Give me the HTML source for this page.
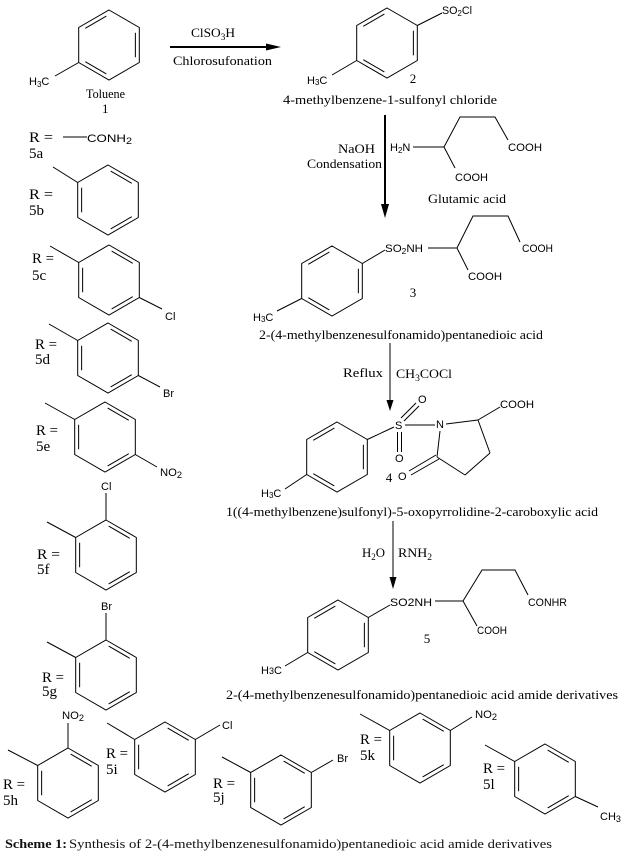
<!DOCTYPE html>
<html>
<head>
<meta charset="utf-8">
<style>
html,body{margin:0;padding:0;background:#fff;}
svg{display:block;}
.l{stroke:#000;stroke-width:1;fill:none;}
.a{stroke:#000;fill:none;}
.s{font-family:"Liberation Sans",sans-serif;font-size:11px;fill:#000;}
.t{font-family:"Liberation Serif",serif;font-size:13px;fill:#000;}
.r{font-family:"Liberation Serif",serif;font-size:15px;fill:#000;}
.c{font-family:"Liberation Serif",serif;font-size:13px;fill:#111;}
</style>
</head>
<body>
<svg width="624" height="864" viewBox="0 0 624 864" xmlns="http://www.w3.org/2000/svg">

<!-- ===== Ring pattern A (main compounds) ===== -->
<g class="l" transform="translate(109,45)"><path d="M0,-35 L30.31,-17.5 L30.31,17.5 L0,35 L-30.31,17.5 L-30.31,-17.5 Z M-23.73,-16.74 L-2.64,-28.93 M26.37,-12.2 L26.37,12.2 M-2.64,28.93 L-23.73,16.74"/></g>
<g class="l" transform="translate(387,43)"><path d="M0,-35 L30.31,-17.5 L30.31,17.5 L0,35 L-30.31,17.5 L-30.31,-17.5 Z M-23.73,-16.74 L-2.64,-28.93 M26.37,-12.2 L26.37,12.2 M-2.64,28.93 L-23.73,16.74"/></g>
<g class="l" transform="translate(332,281)"><path d="M0,-35 L30.31,-17.5 L30.31,17.5 L0,35 L-30.31,17.5 L-30.31,-17.5 Z M-23.73,-16.74 L-2.64,-28.93 M26.37,-12.2 L26.37,12.2 M-2.64,28.93 L-23.73,16.74"/></g>
<g class="l" transform="translate(337,457)"><path d="M0,-35 L30.31,-17.5 L30.31,17.5 L0,35 L-30.31,17.5 L-30.31,-17.5 Z M-23.73,-16.74 L-2.64,-28.93 M26.37,-12.2 L26.37,12.2 M-2.64,28.93 L-23.73,16.74"/></g>
<g class="l" transform="translate(338,635)"><path d="M0,-35 L30.31,-17.5 L30.31,17.5 L0,35 L-30.31,17.5 L-30.31,-17.5 Z M-23.73,-16.74 L-2.64,-28.93 M26.37,-12.2 L26.37,12.2 M-2.64,28.93 L-23.73,16.74"/></g>

<!-- ===== Ring pattern B (R groups) ===== -->
<g class="l" transform="translate(108,200)"><path d="M0,-35 L30.31,-17.5 L30.31,17.5 L0,35 L-30.31,17.5 L-30.31,-17.5 Z M2.64,-28.93 L23.73,-16.74 M-26.37,12.2 L-26.37,-12.2 M23.73,16.74 L2.64,28.93"/></g>
<g class="l" transform="translate(109,280)"><path d="M0,-35 L30.31,-17.5 L30.31,17.5 L0,35 L-30.31,17.5 L-30.31,-17.5 Z M2.64,-28.93 L23.73,-16.74 M-26.37,12.2 L-26.37,-12.2 M23.73,16.74 L2.64,28.93"/></g>
<g class="l" transform="translate(108,358)"><path d="M0,-35 L30.31,-17.5 L30.31,17.5 L0,35 L-30.31,17.5 L-30.31,-17.5 Z M2.64,-28.93 L23.73,-16.74 M-26.37,12.2 L-26.37,-12.2 M23.73,16.74 L2.64,28.93"/></g>
<g class="l" transform="translate(105,437)"><path d="M0,-35 L30.31,-17.5 L30.31,17.5 L0,35 L-30.31,17.5 L-30.31,-17.5 Z M2.64,-28.93 L23.73,-16.74 M-26.37,12.2 L-26.37,-12.2 M23.73,16.74 L2.64,28.93"/></g>
<g class="l" transform="translate(106,555)"><path d="M0,-35 L30.31,-17.5 L30.31,17.5 L0,35 L-30.31,17.5 L-30.31,-17.5 Z M2.64,-28.93 L23.73,-16.74 M-26.37,12.2 L-26.37,-12.2 M23.73,16.74 L2.64,28.93"/></g>
<g class="l" transform="translate(106,675)"><path d="M0,-35 L30.31,-17.5 L30.31,17.5 L0,35 L-30.31,17.5 L-30.31,-17.5 Z M2.64,-28.93 L23.73,-16.74 M-26.37,12.2 L-26.37,-12.2 M23.73,16.74 L2.64,28.93"/></g>
<g class="l" transform="translate(68,783)"><path d="M0,-35 L30.31,-17.5 L30.31,17.5 L0,35 L-30.31,17.5 L-30.31,-17.5 Z M2.64,-28.93 L23.73,-16.74 M-26.37,12.2 L-26.37,-12.2 M23.73,16.74 L2.64,28.93"/></g>
<g class="l" transform="translate(165,757)"><path d="M0,-35 L30.31,-17.5 L30.31,17.5 L0,35 L-30.31,17.5 L-30.31,-17.5 Z M2.64,-28.93 L23.73,-16.74 M-26.37,12.2 L-26.37,-12.2 M23.73,16.74 L2.64,28.93"/></g>
<g class="l" transform="translate(281,790)"><path d="M0,-35 L30.31,-17.5 L30.31,17.5 L0,35 L-30.31,17.5 L-30.31,-17.5 Z M2.64,-28.93 L23.73,-16.74 M-26.37,12.2 L-26.37,-12.2 M23.73,16.74 L2.64,28.93"/></g>
<g class="l" transform="translate(420,748)"><path d="M0,-35 L30.31,-17.5 L30.31,17.5 L0,35 L-30.31,17.5 L-30.31,-17.5 Z M2.64,-28.93 L23.73,-16.74 M-26.37,12.2 L-26.37,-12.2 M23.73,16.74 L2.64,28.93"/></g>
<g class="l" transform="translate(545,779)"><path d="M0,-35 L30.31,-17.5 L30.31,17.5 L0,35 L-30.31,17.5 L-30.31,-17.5 Z M2.64,-28.93 L23.73,-16.74 M-26.37,12.2 L-26.37,-12.2 M23.73,16.74 L2.64,28.93"/></g>

<!-- ===== Substituent bonds ===== -->
<path class="l" d="
M78.7,62.5 L55,76
M417.3,25.5 L442,13
M356.7,60.5 L332,75
M362.3,263.5 L385,250
M301.7,298.5 L277,311
M367.3,439.5 L394,427
M306.7,474.5 L285,489
M368.3,617.5 L390,605
M307.7,652.5 L285,666
M63,137 L87,137
M77.7,182.5 L53,167
M78.7,262.5 L50,246
M139.3,297.5 L162,309
M77.7,340.5 L49,324
M138.3,375.5 L160,387
M74.7,419.5 L45,403
M135.3,454.5 L157,467
M75.7,537.5 L47,522
M106,520 L106,493
M75.7,657.5 L47,642
M106,640 L106,613
M37.7,765.5 L8,750
M68,748 L68,723
M134.7,739.5 L107,723
M195.3,739.5 L220,725
M250.7,772.5 L222,757
M311.3,772.5 L333,760
M389.7,730.5 L360,714
M450.3,730.5 L472,717
M514.7,761.5 L485,745
M575.3,796.5 L598,807
"/>

<!-- Glutamic acid skeleton -->
<path class="l" d="M413,147 L444,147 M444,147 L460,117 L495,117 L508,140 M444,147 L455,168"/>
<!-- Compound 3 chain -->
<path class="l" d="M428,248 L457,248 M457,248 L473,216 L508,216 L520,242 M457,248 L468,270"/>
<!-- Compound 5 chain -->
<path class="l" d="M435,601 L463,601 M463,601 L482,570 L515,570 L528,595 M463,601 L477,626"/>

<!-- Compound 4 -->
<path class="l" d="
M401,418 L416,403
M404,421 L419,406
M397.5,432 L397.5,452
M401.5,432 L401.5,452
M405,425 L435,425
M446,424 L478,420
M478,420 L490,453
M490,453 L465,475
M465,475 L437,457
M437,457 L440,431
M436,455 L409,471
M439,459 L411,475
M478,420 L500,407
"/>

<!-- ===== Arrows ===== -->
<line class="a" x1="170" y1="47" x2="270" y2="47" stroke-width="2"/>
<polygon points="266,43.5 281,47 266,50.5" fill="#000"/>
<line class="a" x1="385" y1="115" x2="385" y2="208" stroke-width="2"/>
<polygon points="381,204 385,218 389,204" fill="#000"/>
<line class="a" x1="390" y1="343" x2="390" y2="403" stroke-width="1"/>
<polygon points="386.5,400 390,411 393.5,400" fill="#000"/>
<line class="a" x1="393" y1="521" x2="393" y2="580" stroke-width="1"/>
<polygon points="389.5,577 393,589 396.5,577" fill="#000"/>

<!-- ===== Serif labels ===== -->
<text class="t" x="191" y="37" textLength="44" lengthAdjust="spacingAndGlyphs">ClSO<tspan font-size="9" dy="3">3</tspan><tspan dy="-3">H</tspan></text>
<text class="t" x="173" y="65" textLength="99" lengthAdjust="spacingAndGlyphs">Chlorosufonation</text>
<text class="t" x="86" y="98" font-size="12" textLength="39" lengthAdjust="spacingAndGlyphs">Toluene</text>
<text class="t" x="102" y="113" font-size="13">1</text>
<text class="t" x="413" y="83" font-size="14" text-anchor="middle">2</text>
<text class="t" x="283" y="104" textLength="214" lengthAdjust="spacingAndGlyphs">4-methylbenzene-1-sulfonyl chloride</text>
<text class="t" x="338" y="153" font-size="14" textLength="37" lengthAdjust="spacingAndGlyphs">NaOH</text>
<text class="t" x="307" y="168" textLength="75" lengthAdjust="spacingAndGlyphs">Condensation</text>
<text class="t" x="428" y="203" textLength="78" lengthAdjust="spacingAndGlyphs">Glutamic acid</text>
<text class="t" x="413" y="297" font-size="14" text-anchor="middle">3</text>
<text class="t" x="259" y="339" textLength="284" lengthAdjust="spacingAndGlyphs">2-(4-methylbenzenesulfonamido)pentanedioic acid</text>
<text class="t" x="343" y="377" textLength="40" lengthAdjust="spacingAndGlyphs">Reflux</text>
<text class="t" x="396" y="378" textLength="56" lengthAdjust="spacingAndGlyphs">CH<tspan font-size="9" dy="3">3</tspan><tspan dy="-3">COCl</tspan></text>
<text class="t" x="389" y="482" font-size="14" text-anchor="middle">4</text>
<text class="t" x="226" y="516" textLength="372" lengthAdjust="spacingAndGlyphs">1((4-methylbenzene)sulfonyl)-5-oxopyrrolidine-2-caroboxylic acid</text>
<text class="t" x="362" y="557" textLength="23" lengthAdjust="spacingAndGlyphs">H<tspan font-size="9" dy="3">2</tspan><tspan dy="-3">O</tspan></text>
<text class="t" x="398" y="557" textLength="34" lengthAdjust="spacingAndGlyphs">RNH<tspan font-size="9" dy="3">2</tspan></text>
<text class="t" x="427" y="643" font-size="14" text-anchor="middle">5</text>
<text class="t" x="226" y="699" textLength="392" lengthAdjust="spacingAndGlyphs">2-(4-methylbenzenesulfonamido)pentanedioic acid amide derivatives</text>

<!-- R labels -->
<text class="r" x="29" y="142" textLength="24" lengthAdjust="spacingAndGlyphs">R =</text>
<text class="r" x="29" y="158">5a</text>
<text class="r" x="29" y="199" textLength="24" lengthAdjust="spacingAndGlyphs">R =</text>
<text class="r" x="29" y="215">5b</text>
<text class="r" x="32" y="263" textLength="22" lengthAdjust="spacingAndGlyphs">R =</text>
<text class="r" x="32" y="280">5c</text>
<text class="r" x="35" y="349" textLength="22" lengthAdjust="spacingAndGlyphs">R =</text>
<text class="r" x="35" y="364">5d</text>
<text class="r" x="36" y="435" textLength="22" lengthAdjust="spacingAndGlyphs">R =</text>
<text class="r" x="36" y="451">5e</text>
<text class="r" x="37" y="559" textLength="23" lengthAdjust="spacingAndGlyphs">R =</text>
<text class="r" x="37" y="574">5f</text>
<text class="r" x="42" y="682" textLength="22" lengthAdjust="spacingAndGlyphs">R =</text>
<text class="r" x="42" y="696">5g</text>
<text class="r" x="3" y="789" textLength="22" lengthAdjust="spacingAndGlyphs">R =</text>
<text class="r" x="3" y="805">5h</text>
<text class="r" x="106" y="758" textLength="22" lengthAdjust="spacingAndGlyphs">R =</text>
<text class="r" x="106" y="774">5i</text>
<text class="r" x="213" y="788" textLength="22" lengthAdjust="spacingAndGlyphs">R =</text>
<text class="r" x="213" y="802">5j</text>
<text class="r" x="360" y="744" textLength="22" lengthAdjust="spacingAndGlyphs">R =</text>
<text class="r" x="360" y="760">5k</text>
<text class="r" x="483" y="773" textLength="22" lengthAdjust="spacingAndGlyphs">R =</text>
<text class="r" x="483" y="789">5l</text>

<!-- ===== Sans atom labels ===== -->
<text class="s" x="29" y="85">H<tspan font-size="8" dy="2">3</tspan><tspan dy="-2">C</tspan></text>
<text class="s" x="87" y="142" textLength="45" lengthAdjust="spacingAndGlyphs">CONH<tspan font-size="9" dy="2">2</tspan></text>
<text class="s" x="442" y="14" textLength="30" lengthAdjust="spacingAndGlyphs">SO<tspan font-size="8" dy="2">2</tspan><tspan dy="-2">Cl</tspan></text>
<text class="s" x="307" y="84">H<tspan font-size="8" dy="1">3</tspan><tspan dy="-1">C</tspan></text>
<text class="s" x="390" y="151">H<tspan font-size="8" dy="2">2</tspan><tspan dy="-2">N</tspan></text>
<text class="s" x="508" y="151" textLength="34" lengthAdjust="spacingAndGlyphs">COOH</text>
<text class="s" x="455" y="181" textLength="33" lengthAdjust="spacingAndGlyphs">COOH</text>
<text class="s" x="385" y="252" textLength="38" lengthAdjust="spacingAndGlyphs">SO<tspan font-size="8" dy="2">2</tspan><tspan dy="-2">NH</tspan></text>
<text class="s" x="522" y="252" textLength="31" lengthAdjust="spacingAndGlyphs">COOH</text>
<text class="s" x="468" y="280" textLength="34" lengthAdjust="spacingAndGlyphs">COOH</text>
<text class="s" x="253" y="321">H<tspan font-size="8" dy="1">3</tspan><tspan dy="-1">C</tspan></text>
<text class="s" x="395" y="429">S</text>
<text class="s" x="418" y="403">O</text>
<text class="s" x="395" y="462">O</text>
<text class="s" x="436" y="428">N</text>
<text class="s" x="500" y="408" textLength="34" lengthAdjust="spacingAndGlyphs">COOH</text>
<text class="s" x="398" y="480">O</text>
<text class="s" x="261" y="497">H<tspan font-size="8" dy="1">3</tspan><tspan dy="-1">C</tspan></text>
<text class="s" x="390" y="606" textLength="42" lengthAdjust="spacingAndGlyphs">SO2NH</text>
<text class="s" x="528" y="606" textLength="39" lengthAdjust="spacingAndGlyphs">CONHR</text>
<text class="s" x="477" y="634" textLength="30" lengthAdjust="spacingAndGlyphs">COOH</text>
<text class="s" x="261" y="674">H<tspan font-size="9">3</tspan>C</text>
<text class="s" x="165" y="320">Cl</text>
<text class="s" x="163" y="397">Br</text>
<text class="s" x="160" y="476" textLength="22" lengthAdjust="spacingAndGlyphs">NO<tspan font-size="9" dy="2">2</tspan></text>
<text class="s" x="101" y="490">Cl</text>
<text class="s" x="101" y="610">Br</text>
<text class="s" x="62" y="719" textLength="22" lengthAdjust="spacingAndGlyphs">NO<tspan font-size="9" dy="2">2</tspan></text>
<text class="s" x="222" y="729">Cl</text>
<text class="s" x="337" y="762">Br</text>
<text class="s" x="475" y="718" textLength="22" lengthAdjust="spacingAndGlyphs">NO<tspan font-size="9" dy="2">2</tspan></text>
<text class="s" x="600" y="820">CH<tspan font-size="9" dy="2">3</tspan></text>

<!-- ===== Caption ===== -->
<text class="c" x="5" y="848" font-weight="bold" textLength="62" lengthAdjust="spacingAndGlyphs">Scheme 1:</text>
<text class="c" x="69" y="848" textLength="483" lengthAdjust="spacingAndGlyphs">Synthesis of 2-(4-methylbenzenesulfonamido)pentanedioic acid amide derivatives</text>

</svg>
</body>
</html>
